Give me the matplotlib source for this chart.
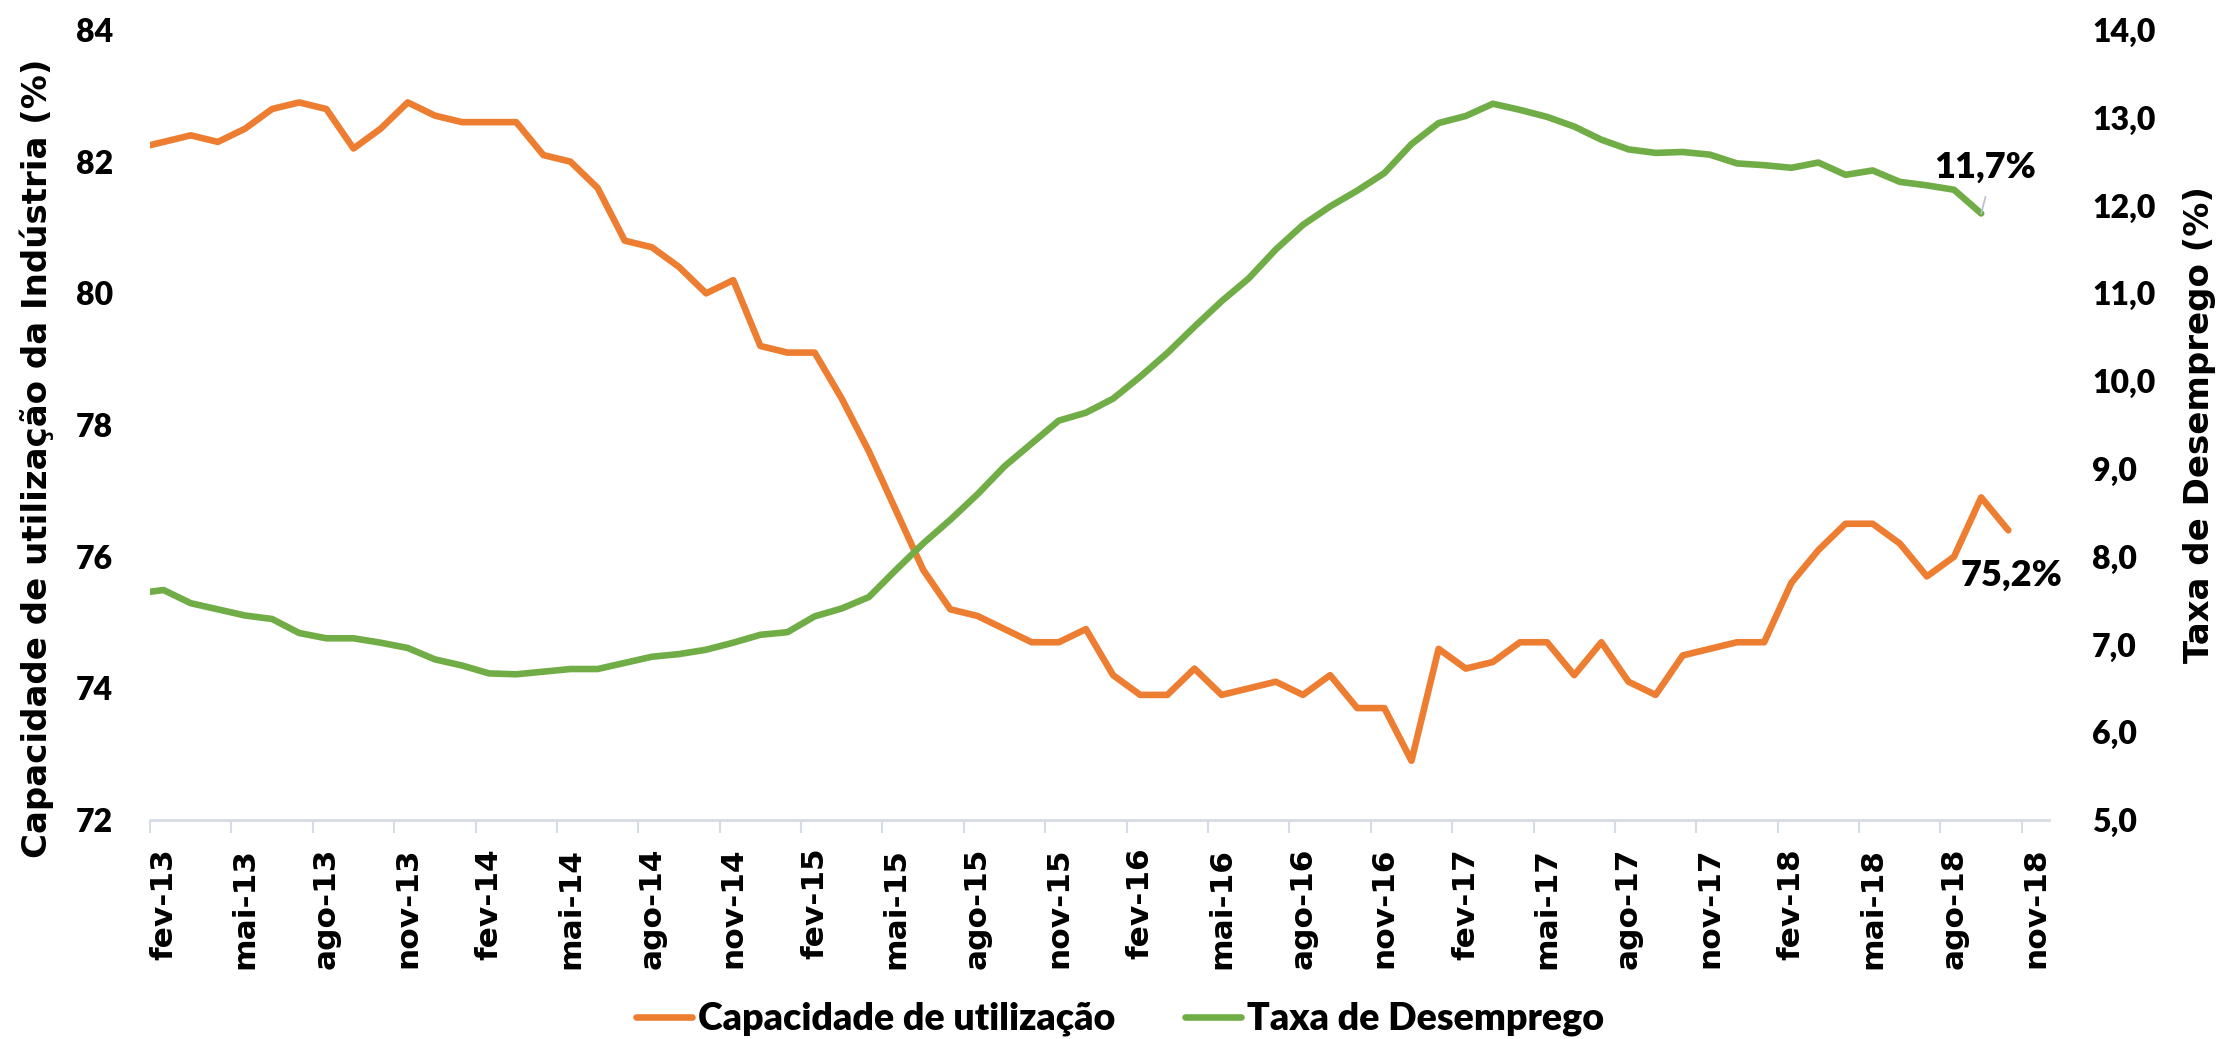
import matplotlib
matplotlib.use("Agg")
import matplotlib.pyplot as plt
from matplotlib.ticker import FixedLocator, FuncFormatter
from matplotlib.lines import Line2D

# ---------------- data ----------------
# monthly series, first value = jan-13 (partly outside the axis), slot 0 = fev-13
capacidade = [82.2, 82.3, 82.4, 82.3, 82.5, 82.8, 82.9, 82.8, 82.2, 82.5,
              82.9, 82.7, 82.6, 82.6, 82.6, 82.1, 82.0, 81.6, 80.8, 80.7,
              80.4, 80.0, 80.2, 79.2, 79.1, 79.1, 78.4, 77.6, 76.7, 75.8,
              75.2, 75.1, 74.9, 74.7, 74.7, 74.9, 74.2, 73.9, 73.9, 74.3,
              73.9, 74.0, 74.1, 73.9, 74.2, 73.7, 73.7, 72.9, 74.6, 74.3,
              74.4, 74.7, 74.7, 74.2, 74.7, 74.1, 73.9, 74.5, 74.6, 74.7,
              74.7, 75.6, 76.1, 76.5, 76.5, 76.2, 75.7, 76.0, 76.9, 76.4]
desemprego = [7.58, 7.62, 7.47, 7.40, 7.33, 7.29, 7.13, 7.07, 7.07, 7.02,
              6.96, 6.83, 6.76, 6.67, 6.66, 6.69, 6.72, 6.72, 6.79, 6.86,
              6.89, 6.94, 7.02, 7.11, 7.14, 7.32, 7.41, 7.54, 7.85, 8.15,
              8.42, 8.71, 9.03, 9.29, 9.55, 9.64, 9.80, 10.05, 10.32, 10.62,
              10.91, 11.17, 11.50, 11.78, 11.99, 12.17, 12.37, 12.70, 12.94, 13.02,
              13.16, 13.09, 13.01, 12.90, 12.75, 12.64, 12.60, 12.61, 12.58, 12.48,
              12.46, 12.43, 12.49, 12.35, 12.40, 12.27, 12.23, 12.18, 11.91]
first_month_slot = -1      # jan-13 sits one slot before fev-13
n_slots = 70               # fev-13 ... nov-18
tick_labels = ['fev-13', 'mai-13', 'ago-13', 'nov-13', 'fev-14', 'mai-14',
               'ago-14', 'nov-14', 'fev-15', 'mai-15', 'ago-15', 'nov-15',
               'fev-16', 'mai-16', 'ago-16', 'nov-16', 'fev-17', 'mai-17',
               'ago-17', 'nov-17', 'fev-18', 'mai-18', 'ago-18', 'nov-18']
label_step = 3
label_cap = '75,2%'
label_des = '11,7%'
left_ticks = [72, 74, 76, 78, 80, 82, 84]
right_ticks = [5, 6, 7, 8, 9, 10, 11, 12, 13, 14]
series_names = ['Capacidade de utilização', 'Taxa de Desemprego']
axis_titles = ['Capacidade de utilização da Indústria (%)', 'Taxa de Desemprego (%)']

# ---------------- style ----------------
ORANGE = '#ED7D31'
GREEN = '#70AD47'
AXIS_C = '#D6DCE5'
H_FONT = ['Lato', 'DejaVu Sans']
H_WEIGHT = 'heavy'
V_FONT = ['DejaVu Sans']
LW = 4.75

W, H = 2229, 1039
fig = plt.figure(figsize=(W / 100, H / 100), dpi=100)
ax = fig.add_axes([150 / W, 1 - 820 / H, (2049 - 150) / W, (820 - 30) / H])
ax2 = ax.twinx()

x_cap = [first_month_slot + i + 0.5 for i in range(len(capacidade))]
x_des = [first_month_slot + i + 0.5 for i in range(len(desemprego))]

ax.plot(x_cap, capacidade, color=ORANGE, lw=LW, solid_joinstyle='round',
        solid_capstyle='round', zorder=3)
ax2.plot(x_des, desemprego, color=GREEN, lw=LW, solid_joinstyle='round',
         solid_capstyle='round', zorder=3)

ax.set_xlim(0, n_slots)
ax.set_ylim(left_ticks[0], left_ticks[-1])
ax2.set_ylim(right_ticks[0], right_ticks[-1])

for a in (ax, ax2):
    for s in ('top', 'left', 'right'):
        a.spines[s].set_visible(False)
    a.patch.set_visible(False)
ax2.spines['bottom'].set_visible(False)
ax.spines['bottom'].set_color(AXIS_C)
ax.spines['bottom'].set_linewidth(2.0)

# x axis: major ticks at slot boundaries, labels centred in slots
major = [i * label_step for i in range(len(tick_labels))]
minor = [m + 0.5 for m in major]
ax.xaxis.set_major_locator(FixedLocator(major))
ax.xaxis.set_minor_locator(FixedLocator(minor))
ax.xaxis.set_major_formatter(FuncFormatter(lambda v, p: ''))
ax.set_xticks(minor, tick_labels, minor=True)
ax.tick_params(axis='x', which='major', length=9.4, width=1.5, color=AXIS_C,
               direction='out')
ax.tick_params(axis='x', which='minor', length=0, pad=20)
for t in ax.get_xticklabels(minor=True):
    t.set_rotation(90)
    t.set_fontfamily(V_FONT)
    t.set_fontweight('bold')
    t.set_fontsize(22.5)
    t.set_ha('center')
    t.set_va('top')

ax.set_yticks(left_ticks, [str(v) for v in left_ticks])
ax.tick_params(axis='y', length=0, pad=26.5)
for t in ax.get_yticklabels():
    t.set_fontfamily(H_FONT)
    t.set_fontweight(H_WEIGHT)
    t.set_fontsize(23)

ax2.set_yticks(right_ticks, [f'{v:.1f}'.replace('.', ',') for v in right_ticks])
ax2.tick_params(axis='y', length=0, pad=31)
for t in ax2.get_yticklabels():
    t.set_fontfamily(H_FONT)
    t.set_fontweight(H_WEIGHT)
    t.set_fontsize(23)

# axis titles
fig.text(37 / W, 1 - 458 / H, axis_titles[0], rotation=90, ha='center', va='center',
         fontsize=24.5, fontweight='bold', family=V_FONT)
fig.text(2200 / W, 1 - 425 / H, axis_titles[1], rotation=90, ha='center', va='center',
         fontsize=24.5, fontweight='bold', family=V_FONT)

# data labels
last_des = (x_des[-1], desemprego[-1])
last_cap = (x_cap[-1], capacidade[-1])
ax2.annotate(label_des, xy=last_des, xytext=(3.1, 33), textcoords='offset points',
             ha='center', va='center', fontsize=26, fontweight=H_WEIGHT, family=H_FONT,
             zorder=5)
ax2.annotate('', xy=last_des, xytext=(3.1, 12), textcoords='offset points',
             arrowprops=dict(arrowstyle='-', color='#B4C0D0', lw=1.2,
                             shrinkA=0, shrinkB=0), zorder=4)
ax.annotate(label_cap, xy=last_cap, xytext=(2.3, -32), textcoords='offset points',
            ha='center', va='center', fontsize=26, fontweight=H_WEIGHT, family=H_FONT,
            zorder=5)

# legend
handles = [Line2D([], [], color=ORANGE, lw=LW, solid_capstyle='round'),
           Line2D([], [], color=GREEN, lw=LW, solid_capstyle='round')]
leg = fig.legend(handles, series_names, loc='center', bbox_to_anchor=(1120 / W, 1 - 1019 / H),
                 ncol=2, frameon=False, handlelength=1.5, handletextpad=0.15,
                 columnspacing=1.85, borderpad=0, borderaxespad=0,
                 prop={'family': H_FONT, 'weight': H_WEIGHT, 'size': 27})

fig.savefig('out.png', dpi=100)
